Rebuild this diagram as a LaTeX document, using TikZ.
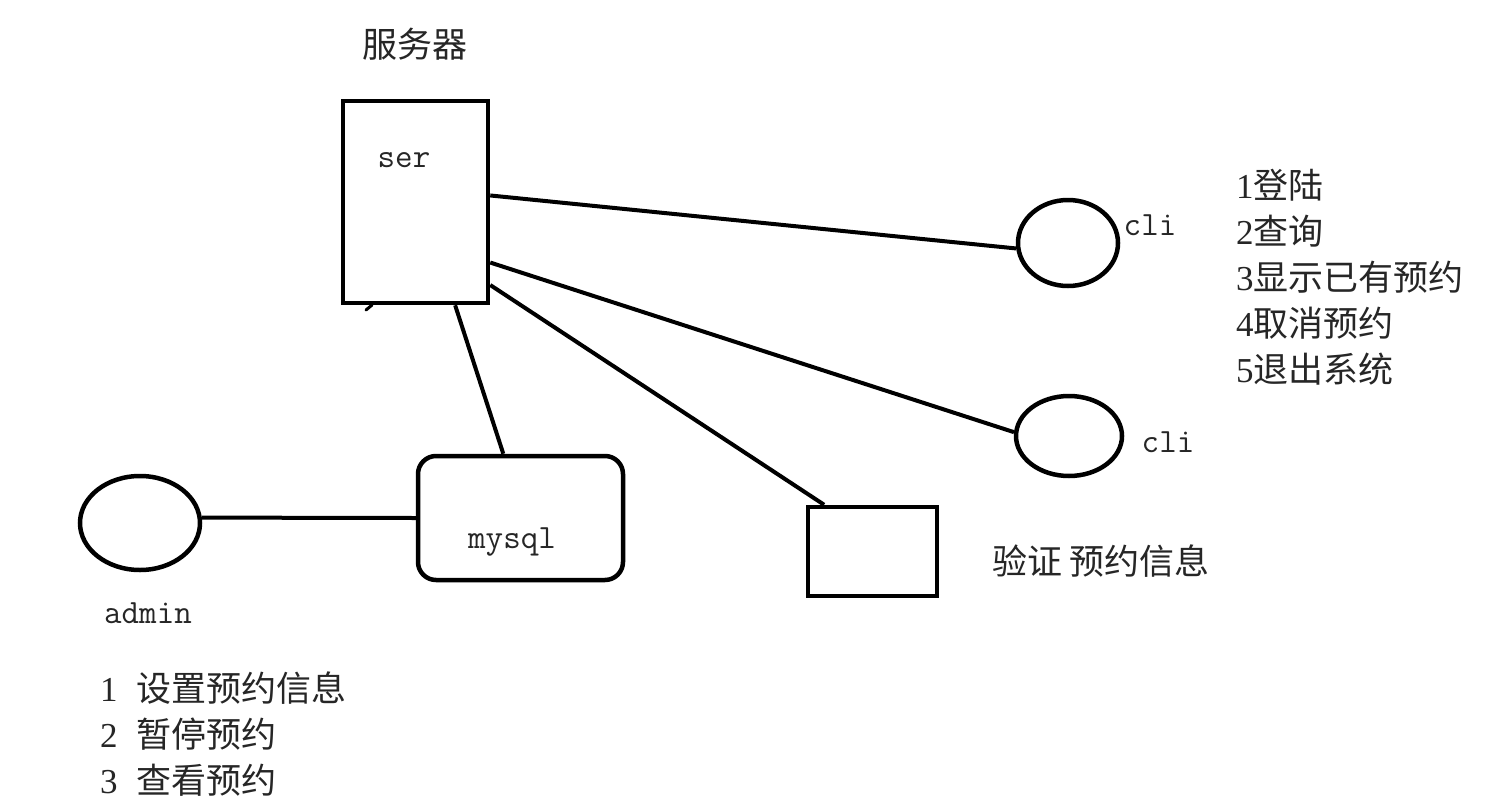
\documentclass[tikz,border=0pt]{standalone}
\usepackage{fontspec}
\newfontfamily\cjk{Noto Sans CJK SC}
\newfontfamily\digits{Liberation Serif}
\usetikzlibrary{shapes.geometric}
\begin{document}
\begin{tikzpicture}[x=1pt,y=-1pt]
\tikzset{
  outline/.style={draw=black, line width=4.5pt, inner sep=0pt},
  conn/.style={draw=black, line width=4pt},
  mono/.style={font=\fontsize{34}{40}\selectfont\ttfamily, inner sep=0pt, text=black!85},
  zh/.style={font=\fontsize{35}{42}\selectfont\cjk, inner sep=0pt, text height=30pt, text depth=5pt, text=black!85},
}
\fill[white] (0,0) rectangle (1505,809);
\useasboundingbox (0,0) rectangle (1505,809);

% shapes
\node[outline, rectangle, minimum width=145pt, minimum height=202pt] (ser) at (415.5,202) {};
\node[outline, ellipse, minimum width=100pt, minimum height=86pt] (cli1) at (1068,243) {};
\node[outline, ellipse, minimum width=106pt, minimum height=80pt] (cli2) at (1069,436) {};
\node[outline, rectangle, minimum width=129pt, minimum height=89pt] (verify) at (872.5,551.5) {};
\node[outline, rectangle, rounded corners=18pt, minimum width=205pt, minimum height=124pt] (mysql) at (520.5,518) {};
\node[outline, ellipse, minimum width=120pt, minimum height=94pt] (admin) at (140,523) {};

% connectors
\draw[conn] (ser.5.5) -- (cli1.186);
\draw[conn] (ser.-39.6) -- (cli2.176.6);
\draw[conn] (ser.-48.9) -- (verify.136.9);
\draw[conn] (ser.-69.6) -- (mysql.105.8);
\draw[conn] (admin.5.7) -- (mysql.west);

% small stray mark under the server box
\draw[line width=3pt, line cap=round] (366,310) -- (372,305);

% labels
\node[zh] (title) at (415,45) {服务器};
\node[mono] (serlbl) at (404,160) {ser};
\node[mono] (cli1lbl) at (1150,225) {cli};
\node[mono] (cli2lbl) at (1168,442) {cli};
\node[mono] (mysqllbl) at (512,542) {mysql};
\node[mono] (adminlbl) at (148,613) {admin};
\node[zh] (verifylbl) at (1101,562) {验证\hspace{7pt}预约信息};

% client menu
\node[zh, anchor=west] (c1) at (1236,186) {{\digits 1}登陆};
\node[zh, anchor=west] (c2) at (1236,232) {{\digits 2}查询};
\node[zh, anchor=west] (c3) at (1236,278) {{\digits 3}显示已有预约};
\node[zh, anchor=west] (c4) at (1236,324) {{\digits 4}取消预约};
\node[zh, anchor=west] (c5) at (1236,370) {{\digits 5}退出系统};

% admin menu
\node[zh, anchor=west] (a1) at (100,689) {{\digits 1}\hspace{19pt}设置预约信息};
\node[zh, anchor=west] (a2) at (100,735) {{\digits 2}\hspace{19pt}暂停预约};
\node[zh, anchor=west] (a3) at (100,781) {{\digits 3}\hspace{19pt}查看预约};
\end{tikzpicture}
\end{document}
